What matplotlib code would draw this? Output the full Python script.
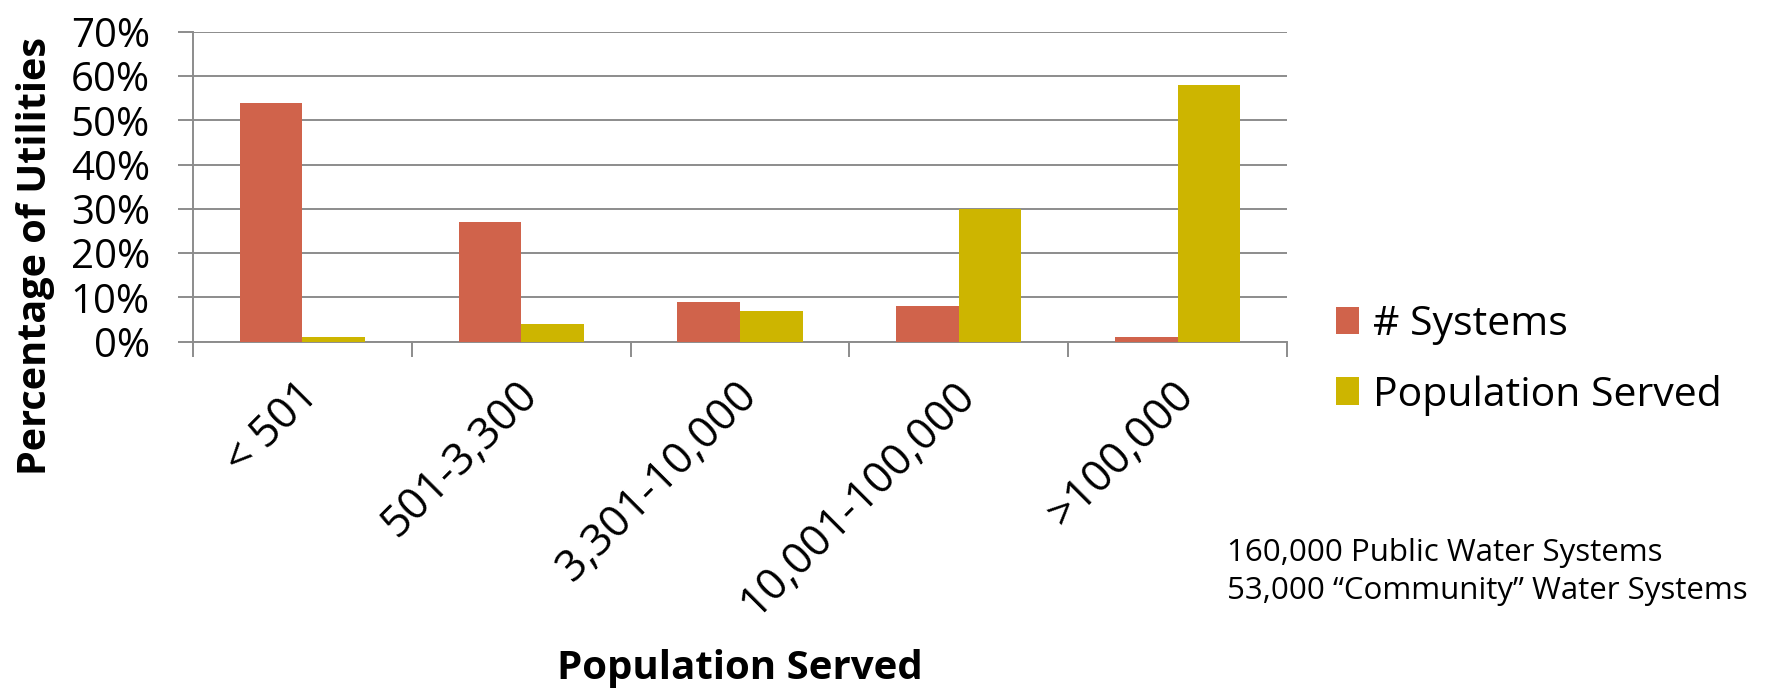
import numpy as np
import matplotlib.pyplot as plt
import matplotlib.transforms as mtransforms
from matplotlib.ticker import FixedLocator

# Data
categories = ['< 501', '501-3,300', '3,301-10,000', '10,001-100,000', '>100,000']
systems = [54, 27, 9, 8, 1]
population = [1, 4, 7, 30, 58]
yticks = [0, 10, 20, 30, 40, 50, 60, 70]

red = '#D0634B'
gold = '#CDB500'
grid_gray = '#8C8C8C'

plt.rcParams['font.family'] = ['Open Sans', 'DejaVu Sans']

fig = plt.figure(figsize=(17.85, 6.91), dpi=100)
ax = fig.add_axes([193 / 1785, 1 - 341.7 / 691, (1287 - 193) / 1785, (341.7 - 31.7) / 691])

x = np.arange(len(categories))
w = 1 / 3.5
ax.bar(x - w / 2, systems, width=w, color=red, label='# Systems', zorder=3)
ax.bar(x + w / 2, population, width=w, color=gold, label='Population Served', zorder=3)

ax.set_xlim(-0.5, len(categories) - 0.5)
ax.set_ylim(0, 70)
ax.set_yticks(yticks)
ax.set_yticklabels([f'{v}%' for v in yticks], fontsize=29)
ax.yaxis.grid(True, color=grid_gray, lw=1.4, zorder=0)
ax.tick_params(axis='y', length=11, width=1.4, color=grid_gray, pad=20)

ax.set_xticks(x)
ax.set_xticklabels(categories, rotation=45, ha='right', va='center',
                   rotation_mode='anchor', fontsize=31.5)
ax.tick_params(axis='x', which='major', length=0, pad=34)
shift = mtransforms.ScaledTranslation(10 / 100, 0, fig.dpi_scale_trans)
for lbl in ax.get_xticklabels():
    lbl.set_transform(lbl.get_transform() + shift)
ax.xaxis.set_minor_locator(FixedLocator(np.arange(-0.5, len(categories), 1.0)))
ax.tick_params(axis='x', which='minor', length=11, width=1.4, color=grid_gray)

for s in ['top', 'right']:
    ax.spines[s].set_visible(False)
for s in ['left', 'bottom']:
    ax.spines[s].set_color(grid_gray)
    ax.spines[s].set_linewidth(1.4)

fig.text(36 / 1785, 1 - 256 / 691, 'Percentage of Utilities', rotation=90,
         ha='center', va='center', fontsize=28.5, fontweight='bold')
fig.text(740 / 1785, 1 - 669 / 691, 'Population Served',
         ha='center', va='center', fontsize=29, fontweight='bold')

fig.legend(*ax.get_legend_handles_labels(), loc='center left',
           bbox_to_anchor=(1336 / 1785, 1 - 360 / 691), frameon=False,
           fontsize=29.5, handlelength=0.55, handleheight=0.65, handletextpad=0.35,
           labelspacing=0.72, borderpad=0, borderaxespad=0)

fig.text(1227 / 1785, 1 - 553 / 691, '160,000 Public Water Systems', ha='left', va='center', fontsize=22.5)
fig.text(1227 / 1785, 1 - 591 / 691, '53,000 \u201cCommunity\u201d Water Systems', ha='left', va='center', fontsize=22.5)

fig.savefig('out.png', dpi=100)
